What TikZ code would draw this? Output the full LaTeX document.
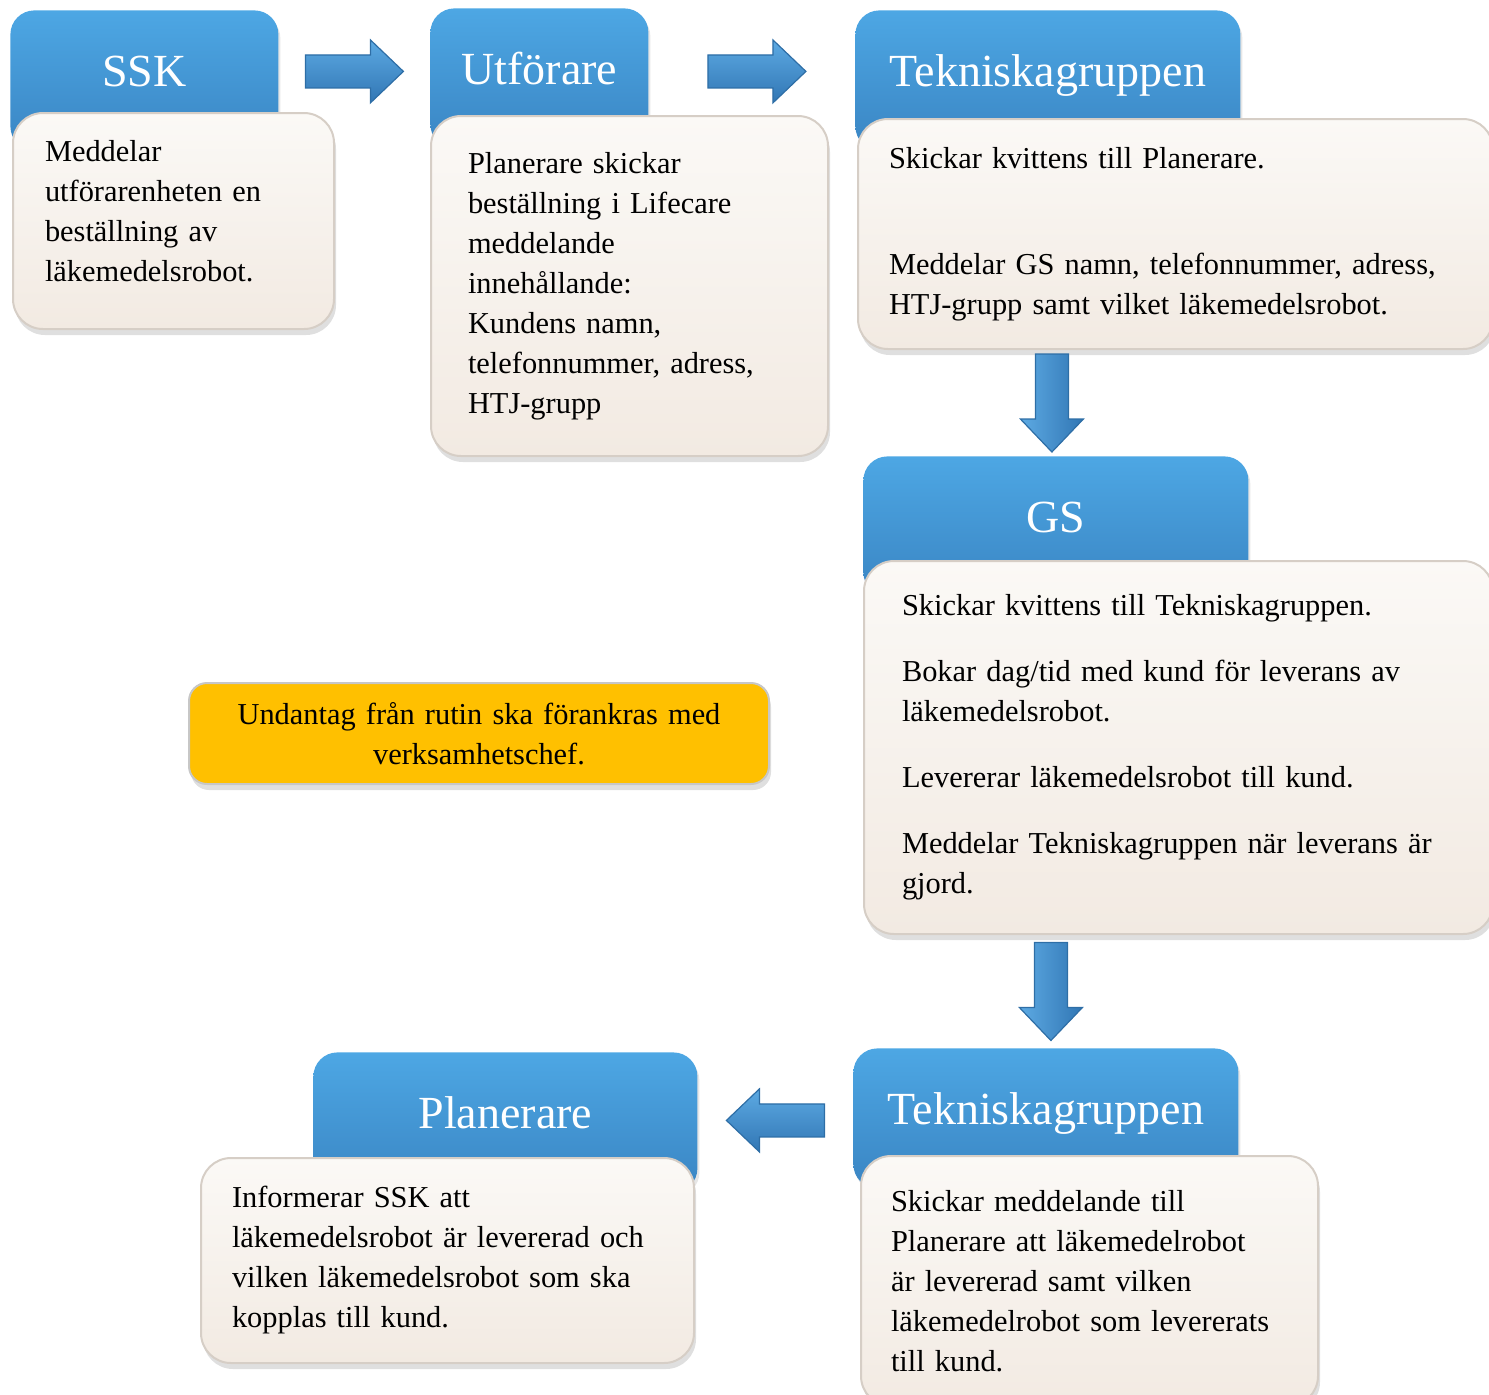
\documentclass[tikz,border=0pt]{standalone}
\usepackage{fontspec}
\setmainfont{Liberation Serif}
\usetikzlibrary{calc, shadows}
\definecolor{hdrtop}{HTML}{4DA7E4}
\definecolor{hdrbot}{HTML}{3A85C3}
\definecolor{boxtop}{HTML}{FBF9F6}
\definecolor{boxbot}{HTML}{F2EAE2}
\definecolor{boxline}{HTML}{D6CEC6}
\definecolor{arrtop}{HTML}{5DAAE3}
\definecolor{arrbot}{HTML}{3176B4}
\definecolor{arrline}{HTML}{2E6EA6}
\definecolor{notefill}{HTML}{FFC000}
\hyphenpenalty=10000
\exhyphenpenalty=10000

\begin{document}
\begin{tikzpicture}[x=0.5pt, y=-0.5pt,
  hdr/.style={anchor=north west, rounded corners=12pt, top color=hdrtop, bottom color=hdrbot,
    text=white, font=\fontsize{23}{28}\selectfont, minimum height=70pt,
    text height=16pt, text depth=10pt,
    drop shadow={opacity=0.2, shadow xshift=1pt, shadow yshift=-2pt}},
  txtbox/.style={anchor=north west, rounded corners=15pt, top color=boxtop, bottom color=boxbot,
    draw=boxline, line width=1pt, align=left, font=\fontsize{15.2}{20}\selectfont, inner xsep=16pt,
    drop shadow={opacity=0.25, shadow xshift=1pt, shadow yshift=-3pt}},
  notebox/.style={anchor=north west, rounded corners=9pt, fill=notefill, draw=black!22, line width=1pt,
    align=center, font=\fontsize{15.2}{20}\selectfont, inner xsep=10pt, text width=270pt,
    minimum height=50.5pt, drop shadow={opacity=0.25, shadow xshift=1pt, shadow yshift=-3pt}},
  hshade/.style={top color=arrtop, bottom color=arrbot},
  vshade/.style={left color=arrtop, right color=arrbot},
  blockarrow/.pic={
    \shade[#1, draw=arrline, line width=0.6pt] (-49,-16.5) -- (16,-16.5) -- (16,-31.5) -- (49,0)
      -- (16,31.5) -- (16,16.5) -- (-49,16.5) -- cycle;}
]
\useasboundingbox (0,0) rectangle (1489,1394);

\node[hdr, minimum width=134pt] (sskhead) at (10,10) {SSK};
\node[hdr, minimum width=109pt] (utfhead) at (430,8) {Utförare};
\node[hdr, minimum width=192.5pt] (tekhead) at (855,10) {Tekniskagruppen};
\node[hdr, minimum width=192.5pt] (gshead) at (863,456) {GS};
\node[hdr, minimum width=192.5pt] (tek2head) at (853,1048) {Tekniskagruppen};
\node[hdr, minimum width=192pt] (planhead) at (313,1052) {Planerare};

\node[txtbox, text width=128.5pt, minimum height=108pt] (sskbody) at (12,112)
  {Meddelar\\ utförarenheten en\\ beställning av\\ läkemedelsrobot.\\[-10pt]\mbox{}};
\node[txtbox, inner xsep=18.5pt, text width=161.5pt, minimum height=170pt] (utfbody) at (430,115)
  {Planerare skickar\\ beställning i Lifecare\\ meddelande\\ innehållande:\\ Kundens namn,\\ telefonnummer, adress,\\ HTJ-grupp};
\node[txtbox, inner xsep=15.5pt, text width=286.5pt, minimum height=115pt] (tekbody) at (857,118)
  {Skickar kvittens till Planerare.\\[33pt] Meddelar GS namn, telefonnummer, adress,\\ HTJ-grupp samt vilket läkemedelsrobot.};
\node[txtbox, inner xsep=19pt, text width=276.5pt, minimum height=186.5pt] (gsbody) at (863,560)
  {Skickar kvittens till Tekniskagruppen.\\[13pt] Bokar dag/tid med kund för leverans av\\ läkemedelsrobot.\\[13pt]
   Levererar läkemedelsrobot till kund.\\[13pt] Meddelar Tekniskagruppen när leverans är\\ gjord.};
\node[txtbox, inner xsep=15pt, text width=198.5pt, minimum height=125pt] (tek2body) at (860,1155)
  {Skickar meddelande till\\ Planerare att läkemedelrobot\\ är levererad samt vilken\\ läkemedelrobot som levererats\\ till kund.};
\node[txtbox, inner xsep=15.5pt, text width=215.5pt, minimum height=102.5pt] (planbody) at (200,1157)
  {Informerar SSK att\\ läkemedelsrobot är levererad och\\ vilken läkemedelsrobot som ska\\ kopplas till kund.};

\node[notebox] (note) at (188,682) {Undantag från rutin ska förankras med\\ verksamhetschef.};

\pic at ($($(sskhead.east)!0.5!(utfhead.west)$)+(0,-8)$) {blockarrow=hshade};
\pic at ($($(utfhead.east)!0.5!(tekhead.west)$)+(5,-8)$) {blockarrow=hshade};
\pic[rotate=-90] at ($(tekbody.south -| tekhead.center)!0.5!(gshead.north)$) {blockarrow=vshade};
\pic[rotate=-90] at ($(gsbody.south -| gshead.center)!0.5!(tek2head.north)$) {blockarrow=vshade};
\pic[rotate=180] at ($(tek2head.west)!0.5!(planhead.east)$) {blockarrow=hshade};
\end{tikzpicture}
\end{document}
